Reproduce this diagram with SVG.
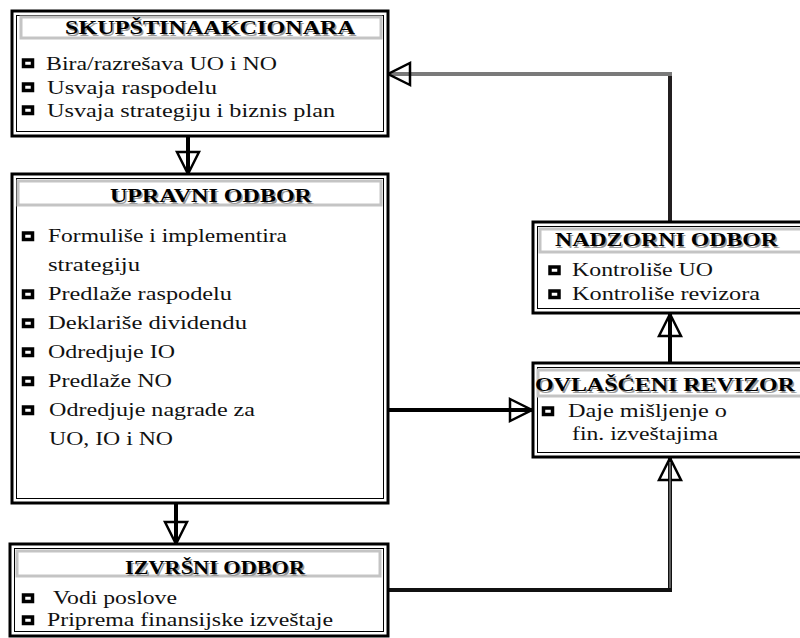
<svg xmlns="http://www.w3.org/2000/svg" xmlns:xlink="http://www.w3.org/1999/xlink" width="800" height="638" viewBox="0 0 800 638">
<style>
.outer{fill:#fff;stroke:#000;stroke-width:3}
.inner{fill:none;stroke:#000;stroke-width:1}
.banner{fill:#fff;stroke:#c4c4c4;stroke-width:3}
.title{font-family:"Liberation Serif","Times New Roman",serif;font-weight:bold;font-size:18px;fill:#000}
.shadow{font-family:"Liberation Serif","Times New Roman",serif;font-weight:bold;font-size:18px;fill:#9a9a9a}
.item{font-family:"Liberation Serif","Times New Roman",serif;font-size:18px;fill:#111}
.bul{fill:#fff;stroke:#000;stroke-width:3.5}
.conn{fill:none;stroke-linejoin:miter}
</style>
<defs>
<rect id="b" class="bul" x="0" y="0" width="9" height="6.5"/>
<marker id="open" markerUnits="userSpaceOnUse" viewBox="-3 -14 28 28" markerWidth="28" markerHeight="28" refX="22" refY="0" orient="auto">
<path d="M0,-11 L22,0 L0,11 Z" fill="none" stroke="#000" stroke-width="2.5" stroke-linejoin="miter"/>
</marker>
</defs>
<rect width="800" height="638" fill="#fff"/>

<g id="connectors">
<line class="conn" x1="188" y1="137" x2="188" y2="174" stroke="#000" stroke-width="4" marker-end="url(#open)"/>
<line class="conn" x1="176" y1="504" x2="176" y2="544" stroke="#000" stroke-width="4" marker-end="url(#open)"/>
<line class="conn" x1="388" y1="410" x2="532" y2="410" stroke="#000" stroke-width="4" marker-end="url(#open)"/>
<line class="conn" x1="670" y1="363" x2="670" y2="314" stroke="#000" stroke-width="4" marker-end="url(#open)"/>
<path class="conn" d="M388,590 H670 V458" stroke="#111" stroke-width="4" marker-end="url(#open)"/>
<line class="conn" x1="670" y1="588" x2="670" y2="462" stroke="#777" stroke-width="1.5"/>
<line class="conn" x1="670" y1="222" x2="670" y2="72" stroke="#231f20" stroke-width="4"/>
<line class="conn" x1="672" y1="74" x2="388" y2="74" stroke="#7a7a7a" stroke-width="4" marker-end="url(#open)"/>
</g>

<g id="skupstina">
<rect class="outer" x="12" y="11" width="376" height="125"/>
<rect class="inner" x="16.5" y="15.5" width="367" height="116"/>
<rect class="banner" x="21" y="17" width="360" height="21"/>
<text class="shadow" x="66.5" y="35.5" textLength="290" lengthAdjust="spacingAndGlyphs">SKUPŠTINAAKCIONARA</text>
<text class="title" x="65" y="34" textLength="290" lengthAdjust="spacingAndGlyphs">SKUPŠTINAAKCIONARA</text>
<use xlink:href="#b" x="23.5" y="60"/>
<text class="item" x="46" y="70" textLength="231" lengthAdjust="spacingAndGlyphs">Bira/razrešava UO i NO</text>
<use xlink:href="#b" x="23.5" y="84"/>
<text class="item" x="47" y="94" textLength="170" lengthAdjust="spacingAndGlyphs">Usvaja raspodelu</text>
<use xlink:href="#b" x="23.5" y="107"/>
<text class="item" x="47" y="117" textLength="288" lengthAdjust="spacingAndGlyphs">Usvaja strategiju i biznis plan</text>
</g>

<g id="upravni">
<rect class="outer" x="12" y="174" width="376" height="329"/>
<rect class="inner" x="16.5" y="178.5" width="367" height="320"/>
<rect class="banner" x="18" y="181" width="363" height="24"/>
<text class="shadow" x="111.5" y="203.5" textLength="202" lengthAdjust="spacingAndGlyphs">UPRAVNI ODBOR</text>
<text class="title" x="110" y="202" textLength="202" lengthAdjust="spacingAndGlyphs">UPRAVNI ODBOR</text>
<use xlink:href="#b" x="23.5" y="233"/>
<text class="item" x="48" y="242" textLength="239" lengthAdjust="spacingAndGlyphs">Formuliše i implementira</text>
<text class="item" x="48" y="271" textLength="92" lengthAdjust="spacingAndGlyphs">strategiju</text>
<use xlink:href="#b" x="23.5" y="291"/>
<text class="item" x="48" y="300" textLength="184" lengthAdjust="spacingAndGlyphs">Predlaže raspodelu</text>
<use xlink:href="#b" x="23.5" y="320"/>
<text class="item" x="48" y="329" textLength="199" lengthAdjust="spacingAndGlyphs">Deklariše dividendu</text>
<use xlink:href="#b" x="23.5" y="349"/>
<text class="item" x="48" y="358" textLength="127" lengthAdjust="spacingAndGlyphs">Odredjuje IO</text>
<use xlink:href="#b" x="23.5" y="378"/>
<text class="item" x="48" y="387" textLength="124" lengthAdjust="spacingAndGlyphs">Predlaže NO</text>
<use xlink:href="#b" x="23.5" y="407"/>
<text class="item" x="49" y="416" textLength="206" lengthAdjust="spacingAndGlyphs">Odredjuje nagrade za</text>
<text class="item" x="49" y="445" textLength="124" lengthAdjust="spacingAndGlyphs">UO, IO i NO</text>
</g>

<g id="izvrsni">
<rect class="outer" x="10" y="544" width="378" height="92"/>
<rect class="inner" x="14.5" y="548.5" width="369" height="83"/>
<rect class="banner" x="17" y="551" width="363" height="25"/>
<text class="shadow" x="126.5" y="575.5" textLength="180" lengthAdjust="spacingAndGlyphs">IZVRŠNI ODBOR</text>
<text class="title" x="125" y="574" textLength="180" lengthAdjust="spacingAndGlyphs">IZVRŠNI ODBOR</text>
<use xlink:href="#b" x="23.5" y="595"/>
<text class="item" x="53" y="604" textLength="124" lengthAdjust="spacingAndGlyphs">Vodi poslove</text>
<use xlink:href="#b" x="23.5" y="617"/>
<text class="item" x="47" y="626" textLength="286" lengthAdjust="spacingAndGlyphs">Priprema finansijske izveštaje</text>
</g>

<g id="nadzorni">
<rect class="outer" x="533" y="222" width="275" height="91"/>
<rect class="inner" x="537.5" y="226.5" width="275" height="82"/>
<rect class="banner" x="540" y="229" width="270" height="23"/>
<text class="shadow" x="556.5" y="247.5" textLength="223" lengthAdjust="spacingAndGlyphs">NADZORNI ODBOR</text>
<text class="title" x="555" y="246" textLength="223" lengthAdjust="spacingAndGlyphs">NADZORNI ODBOR</text>
<use xlink:href="#b" x="550" y="267"/>
<text class="item" x="572" y="276" textLength="141" lengthAdjust="spacingAndGlyphs">Kontroliše UO</text>
<use xlink:href="#b" x="550" y="291"/>
<text class="item" x="572" y="300" textLength="188" lengthAdjust="spacingAndGlyphs">Kontroliše revizora</text>
</g>

<g id="revizor">
<rect class="outer" x="533" y="363" width="275" height="94"/>
<rect class="inner" x="537.5" y="367.5" width="275" height="85"/>
<rect class="banner" x="538" y="370" width="270" height="26"/>
<text class="shadow" x="536.5" y="392.5" textLength="260" lengthAdjust="spacingAndGlyphs">OVLAŠĆENI REVIZOR</text>
<text class="title" x="535" y="391" textLength="260" lengthAdjust="spacingAndGlyphs">OVLAŠĆENI REVIZOR</text>
<use xlink:href="#b" x="543.5" y="408"/>
<text class="item" x="568" y="417" textLength="159" lengthAdjust="spacingAndGlyphs">Daje mišljenje o</text>
<text class="item" x="572" y="440" textLength="146" lengthAdjust="spacingAndGlyphs">fin. izveštajima</text>
</g>
</svg>
